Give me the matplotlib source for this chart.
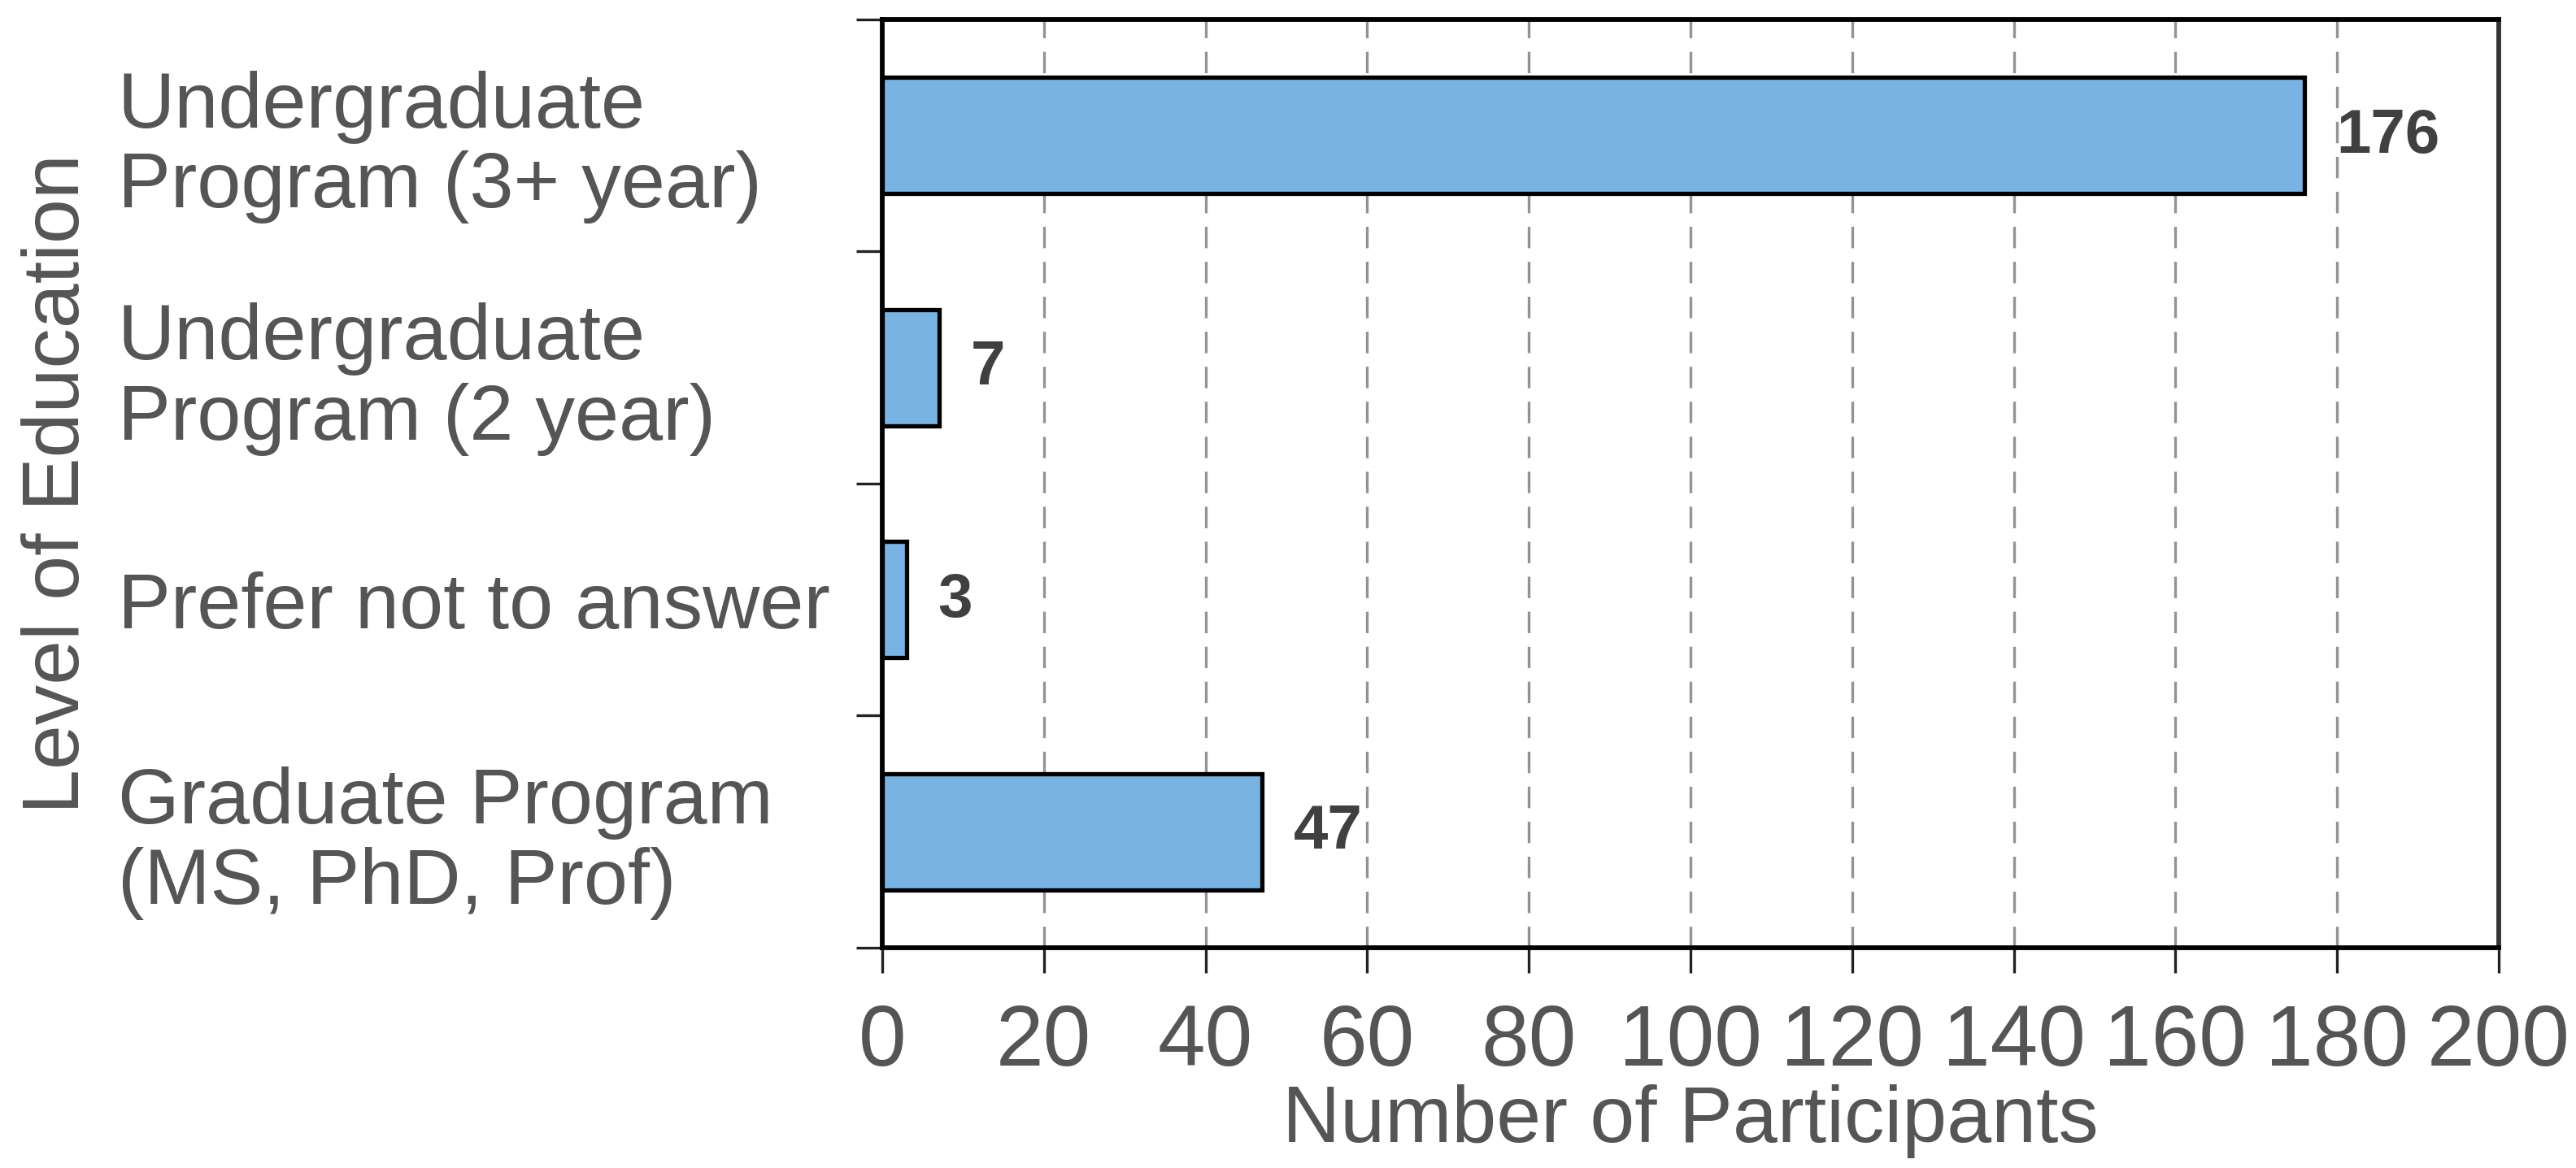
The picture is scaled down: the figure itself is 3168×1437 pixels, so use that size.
import matplotlib
matplotlib.use("Agg")
import matplotlib.pyplot as plt

plt.rcParams['font.family'] = ['Liberation Sans', 'DejaVu Sans']
plt.rcParams['lines.scale_dashes'] = False

# data, top to bottom as in the chart
categories = ["Undergraduate\nProgram (3+ year)",
              "Undergraduate\nProgram (2 year)",
              "Prefer not to answer",
              "Graduate Program\n(MS, PhD, Prof)"]
counts = [176, 7, 3, 47]
xticks = [0, 20, 40, 60, 80, 100, 120, 140, 160, 180, 200]

text_grey = "#555555"
bar_blue = "#79B3E4"

fig = plt.figure(figsize=(31.68, 14.37), dpi=100)
ax = fig.add_axes([0.3425, 0.1886, 0.9700 - 0.3425, 0.9833 - 0.1886])

ypos = list(range(len(categories)))
ax.barh(ypos, counts, height=0.5, color=bar_blue, edgecolor="black",
        linewidth=3.8, zorder=3)

for y, v in zip(ypos, counts):
    ax.annotate(str(v), xy=(v, y), xytext=(28, -1), textcoords="offset points",
                ha="left", va="center", fontsize=55, fontweight="bold",
                color="#404040", zorder=4)

ax.set_xlim(0, 200)
ax.set_ylim(len(categories) - 0.5, -0.5)
ax.set_xticks(xticks)
ax.set_xticklabels([str(t) for t in xticks])

# category labels at bar centres, tick marks at the boundaries
ax.set_yticks(ypos)
ax.set_yticklabels(categories, ha="left", linespacing=1.12)
ax.set_yticks([i - 0.5 for i in range(len(categories) + 1)], minor=True)
ax.tick_params(axis="y", which="major", length=0, pad=677,
               labelsize=70, labelcolor=text_grey)
ax.tick_params(axis="y", which="minor", length=23, width=2.4,
               direction="out", color="#222222")
ax.tick_params(axis="x", which="major", length=22, width=2.4,
               direction="out", color="#222222", labelsize=76,
               labelcolor=text_grey, pad=27)

ax.grid(axis="x", color="#939393", linewidth=2.4,
        linestyle=(0, (19, 12)), zorder=1)
ax.set_axisbelow(True)

for side in ["left", "right", "top", "bottom"]:
    ax.spines[side].set_linewidth(4.2)
    ax.spines[side].set_color("black")
ax.spines["right"].set_color("#333333")

ax.set_xlabel("Number of Participants", fontsize=71, color=text_grey,
              labelpad=1)

# y axis title sits at the far left of the figure
pos = ax.get_position()
fig.text(72 / 3168, pos.y0 + pos.height / 2, "Level of Education",
         rotation=90, ha="center", va="center", fontsize=71, color=text_grey)

fig.savefig("out.png", dpi=100, facecolor="white")
